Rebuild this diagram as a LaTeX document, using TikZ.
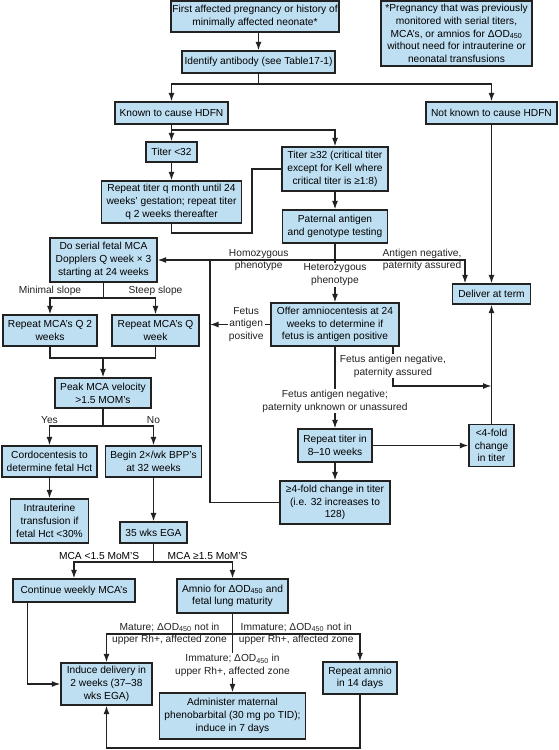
\documentclass[tikz,border=0pt]{standalone}
\usepackage{fontspec}
\setmainfont{Liberation Sans}
\usetikzlibrary{arrows.meta, positioning}
\definecolor{boxblue}{RGB}{190,222,241}
\definecolor{ink}{RGB}{34,34,34}
\newcommand{\dOD}{ΔOD\textsubscript{450}}
\tikzset{
  box/.style={draw=ink, fill=boxblue, line width=1.3pt, align=center, inner sep=1pt},
  boxsize/.style 2 args={minimum width=#1pt, minimum height=#2pt},
  lbl/.style={align=center, inner sep=1pt},
  arrow/.style={-{Latex[length=8.5pt, width=6pt]}, line width=1.3pt, ink},
  link/.style={line width=1.3pt, ink},
  every node/.style={font=\fontsize{10.2}{12.7}\selectfont}
}

\begin{document}
\begin{tikzpicture}[x=1pt, y=-1pt]
    \useasboundingbox (0,0) rectangle (558,750);

    \node[box, boxsize={168}{31}] (first) at (255,16.5) {First affected pregnancy or history of\\minimally affected neonate*};
    \node[box, boxsize={151}{65}] (note) at (456.5,33.5) {*Pregnancy that was previously\\monitored with serial titers,\\MCA’s, or amnios for \dOD\\without need for intrauterine or\\neonatal transfusions};
    \node[box, boxsize={153}{22}] (ident) at (258.5,62) {Identify antibody (see Table17-1)};
    \node[box, boxsize={113}{22}] (known) at (171.5,113) {Known to cause HDFN};
    \node[box, boxsize={131}{22}] (notknown) at (491.5,113) {Not known to cause HDFN};
    \node[box, boxsize={51}{20}] (tlow) at (171.5,152) {Titer <32};
    \node[box, boxsize={106}{44}] (thigh) at (335,169) {Titer ≥32 (critical titer\\except for Kell where\\critical titer is ≥1:8)};
    \node[box, boxsize={140}{42}] (repq) at (171.5,202) {Repeat titer q month until 24\\weeks’ gestation; repeat titer\\q 2 weeks thereafter};
    \node[box, boxsize={105}{33}] (patern) at (335,226.5) {Paternal antigen\\and genotype testing};
    \node[box, boxsize={107}{44}] (serial) at (103.5,260) {Do serial fetal MCA\\Dopplers Q week × 3\\starting at 24 weeks};
    \node[box, boxsize={94}{31}] (mca2) at (50,330.5) {Repeat MCA’s Q 2\\weeks};
    \node[box, boxsize={87}{31}] (mca1) at (155.5,330.5) {Repeat MCA’s Q\\week};
    \node[box, boxsize={96}{30}] (peak) at (103,393) {Peak MCA velocity\\>1.5 MOM’s};
    \node[box, boxsize={95}{31}] (cordo) at (49.5,461.5) {Cordocentesis to\\determine fetal Hct};
    \node[box, boxsize={96}{31}] (bpp) at (153.5,461.5) {Begin 2×/wk BPP’s\\at 32 weeks};
    \node[box, boxsize={78}{44}] (iut) at (49.5,521) {Intrauterine\\transfusion if\\fetal Hct <30\%};
    \node[box, boxsize={67}{21}] (ega) at (153.5,532.5) {35 wks EGA};
    \node[box, boxsize={122}{23}] (weekly) at (74,590.5) {Continue weekly MCA’s};
    \node[box, boxsize={111}{34}] (amnio) at (232.5,596) {Amnio for \dOD{} and\\fetal lung maturity};
    \node[box, boxsize={91}{42}] (induce) at (106.5,684) {Induce delivery in\\2 weeks (37–38\\wks EGA)};
    \node[box, boxsize={146}{46}] (pheno) at (232.5,716) {Administer maternal\\phenobarbital (30 mg po TID);\\induce in 7 days};
    \node[box, boxsize={74}{32}] (reamnio) at (360,678) {Repeat amnio\\in 14 days};
    \node[box, boxsize={78}{20}] (term) at (491.5,294) {Deliver at term};
    \node[box, boxsize={128}{43}] (offer) at (335,324.5) {Offer amniocentesis at 24\\weeks to determine if\\fetus is antigen positive};
    \node[box, boxsize={74}{33}] (retiter) at (335,445.5) {Repeat titer in\\8–10 weeks};
    \node[box, boxsize={45}{42}] (less4) at (491.5,445.5) {<4-fold\\change\\in titer};
    \node[box, boxsize={110}{43}] (more4) at (335,502.5) {≥4-fold change in titer\\(i.e. 32 increases to\\128)};

    \coordinate (c1) at (258.5,84);
    \coordinate (c2) at (171.5,130);
    \coordinate (c3) at (252,233);
    \coordinate (c4) at (335,260);
    \coordinate (c5) at (465,260);
    \coordinate (c6) at (210,260);
    \coordinate (c7) at (393,386);
    \coordinate (c8) at (103.5,298);
    \coordinate (c9) at (103,358);
    \coordinate (c10) at (103,426);
    \coordinate (c11) at (153.5,562);
    \coordinate (c12) at (232.5,634);
    \coordinate (c13) at (360,748);

    \draw[arrow] (first.south -| ident.north) -- (ident);
    \draw[link] (ident) -- (c1);
    \draw[arrow] (c1) -| (known);
    \draw[arrow] (c1) -| (notknown);
    \draw[link] (known) -- (c2);
    \draw[arrow] (c2) -- (tlow);
    \draw[arrow] (c2) -| (thigh);
    \draw[arrow] (tlow) -- (repq);
    \draw[link] (repq) |- (c3) |- (thigh.west);
    \draw[arrow] (thigh) -- (patern);
    \draw[link] (patern) -- (c4);
    \draw[arrow] (c4) -- node[lbl, pos=0.43] {Homozygous\\phenotype} (serial);
    \draw[arrow] (c4) -- node[lbl, pos=0.67] {Antigen negative,\\paternity assured} (c5) -- (c5 |- term.north);
    \draw[arrow] (c4) -- node[lbl, fill=white, pos=0.35] {Heterozygous\\phenotype} (offer);
    \draw[link] (more4) -| (c6);
    \draw[arrow] (offer) -- node[lbl, fill=white, pos=0.4] {Fetus\\antigen\\positive} (offer -| c6);
    \draw[arrow] (notknown) -- (term);
    \draw[arrow] (offer.south -| c7) -- node[lbl, fill=white] {Fetus antigen negative,\\paternity assured} (c7) -- (c7 -| term);
    \draw[arrow] (offer) -- node[lbl, fill=white, pos=0.67] {Fetus antigen negative;\\paternity unknown or unassured} (retiter);
    \draw[arrow] (retiter) -- (less4);
    \draw[arrow] (less4) -- (term);
    \draw[arrow] (retiter) -- (more4);

    \draw[link] (serial) -- (c8);
    \draw[arrow] (c8) -| node[lbl, pos=0.5, above=1pt] {Minimal slope} (mca2);
    \draw[arrow] (c8) -| node[lbl, pos=0.5, above=1pt] {Steep slope} (mca1);
    \draw[link] (mca2) |- (c9);
    \draw[link] (mca1) |- (c9);
    \draw[arrow] (c9) -- (peak);
    \draw[link] (peak) -- (c10);
    \draw[arrow] (c10) -| node[lbl, pos=0.5, above=1pt] {Yes} (cordo);
    \draw[arrow] (c10) -| node[lbl, pos=0.5, above=1pt] {No} (bpp);
    \draw[arrow] (cordo) -- (iut);
    \draw[arrow] (bpp) -- (ega);
    \draw[link] (ega) -- (c11);
    \draw[arrow] (c11) -| (weekly);
    \draw[arrow] (c11) -| (amnio);
    \node[lbl, above left=1pt and 13pt of c11] (lowmca) {MCA <1.5 MoM’S};
    \node[lbl, above right=1pt and 13pt of c11] (highmca) {MCA ≥1.5 MoM’S};
    \draw[arrow] ([xshift=15pt]weekly.south west) |- (induce);
    \draw[link] (amnio) -- (c12);
    \draw[arrow] (c12) -| node[lbl, pos=0.25] {Mature; \dOD{} not in\\upper Rh+, affected zone} (induce);
    \draw[arrow] (c12) -| node[lbl, pos=0.25] {Immature; \dOD{} not in\\upper Rh+, affected zone} (reamnio);
    \draw[arrow] (c12) -- node[lbl, fill=white, pos=0.54] {Immature; \dOD{} in\\upper Rh+, affected zone} (pheno);
    \draw[arrow] (reamnio) -- (c13) -| (induce);
\end{tikzpicture}
\end{document}
